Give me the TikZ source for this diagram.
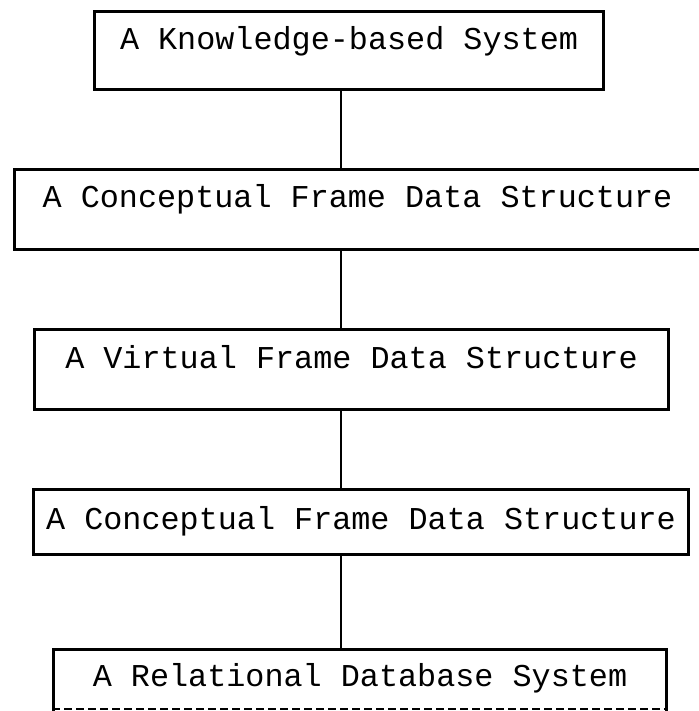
\documentclass[tikz,border=0pt]{standalone}
\usepackage{fontspec}
\setmonofont{Liberation Mono}
\usetikzlibrary{positioning}
\begin{document}
\begin{tikzpicture}[
	x=1pt, y=-1pt,
	thick,
	font=\ttfamily\fontsize{31.8}{36}\selectfont
]
\tikzset{
    layer/.style = {rectangle, draw=black, line width=3pt, anchor=north west, inner sep=0pt, align=center},
    link/.style = {-, line width=2.8pt},
    cutline/.style = {-, line width=2.5pt, dash pattern=on 8pt off 4pt},
}
\useasboundingbox (0,0) rectangle (698,711);
\coordinate (axis) at (341,0);
\node[layer, minimum width=509pt, text height=38pt, text depth=40pt] at (93,10) (kbs) {A Knowledge-based System};
\node[layer, minimum width=686pt, text height=38pt, text depth=42pt] at (13,168) (cfd) {A Conceptual Frame Data Structure};
\node[layer, minimum width=634pt, text height=39pt, text depth=41pt] at (33,328) (vfd) {A Virtual Frame Data Structure};
\node[layer, minimum width=655pt, text height=40pt, text depth=25pt] at (32,488) (cfdb) {A Conceptual Frame Data Structure};
\node[layer, minimum width=613pt, text height=37pt, text depth=60pt] at (52,648) (rdb) {A Relational Database System};
%
\draw[link] (kbs.south -| axis) -- (cfd.north -| axis);
\draw[link] (cfd.south -| axis) -- (vfd.north -| axis);
\draw[link] (vfd.south -| axis) -- (cfdb.north -| axis);
\draw[link] (cfdb.south -| axis) -- (rdb.north -| axis);
%
\draw[cutline] (rdb.west |- 0,709) -- (rdb.east |- 0,709);
\end{tikzpicture}
\end{document}
